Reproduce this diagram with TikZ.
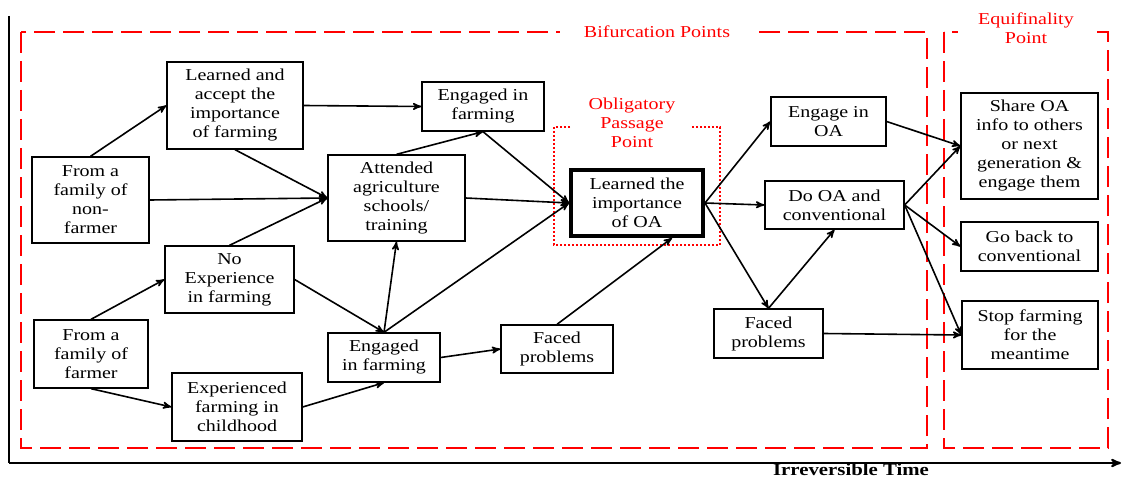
\documentclass[tikz,border=0pt]{standalone}
\usepackage{fontspec}
\setmainfont{Liberation Serif}[FakeStretch=1.2]
\usetikzlibrary{arrows}

\begin{document}
\begin{tikzpicture}[x=0.75pt,y=-0.75pt,>=stealth',
    every node/.style={font=\fontsize{12.5}{14.25}\selectfont},
    stage/.style={draw,line width=1pt,align=center,inner sep=1pt},
    keystage/.style={stage,line width=3pt},
    flow/.style={->,line width=1.2pt},
    zone/.style={red,line width=1.5pt,dash pattern=on 15.75pt off 6pt},
    opp/.style={red,line width=1.1pt,dash pattern=on 1.5pt off 1.5pt},
    zonelabel/.style={fill=white,text=red,align=center,inner sep=0pt}]
    \useasboundingbox (0,0) rectangle (1122,478);
    \coordinate (ytop) at (9,16);
    \coordinate (origin) at (9,463);
    \coordinate (xend) at (1121,463);
    \draw[line width=1.5pt] (ytop) -- (origin);
    \draw[->,line width=1.5pt] (origin) -- (xend);
    \draw[zone] (21,32) rectangle (927,448);
    \draw[zone] (944,32) rectangle (1108,448);
    \draw[opp] (554,127) rectangle (720,245);
    \node[zonelabel,minimum width=146pt,minimum height=14pt] (bifurlabel) at (657,32) {Bifurcation Points};
    \node[zonelabel,minimum width=102pt] (equilabel) at (1026,28) {Equifinality\\Point};
    \node[zonelabel,minimum width=90pt] (opplabel) at (632,123) {Obligatory\\Passage\\Point};
    \node[font=\fontsize{13}{16}\selectfont\bfseries,anchor=base,inner sep=0pt] (timelabel) at (851,475.5) {Irreversible Time};

    \node[stage,minimum width=87.75pt,minimum height=64.5pt] (nonfarm) at (90.5,200) {From a\\family of\\non-\\farmer};
    \node[stage,minimum width=85.5pt,minimum height=51pt] (farmer) at (91,354) {From a\\family of\\farmer};
    \node[stage,minimum width=102pt,minimum height=65.25pt] (learnfarm) at (235,105.5) {Learned and\\accept the\\importance\\of farming};
    \node[stage,minimum width=96.75pt,minimum height=50.25pt] (noexp) at (229.5,279.5) {No\\Experience\\in farming};
    \node[stage,minimum width=97.5pt,minimum height=51pt] (expchild) at (237,407) {Experienced\\farming in\\childhood};
    \node[stage,minimum width=102.75pt,minimum height=64.5pt] (attend) at (396.5,198) {Attended\\agriculture\\schools/\\training};
    \node[stage,minimum width=91.5pt,minimum height=36.75pt] (engtop) at (483,106.5) {Engaged in\\farming};
    \node[stage,minimum width=84pt,minimum height=36.75pt] (engbot) at (384,357.5) {Engaged\\in farming};
    \node[stage,minimum width=84pt,minimum height=36pt] (facedmid) at (557,349) {Faced\\problems};
    \node[keystage,minimum width=99pt,minimum height=49.5pt] (oa) at (637,203) {Learned the\\importance\\of OA};
    \node[stage,minimum width=86.25pt,minimum height=36.75pt] (engoa) at (828.5,121.5) {Engage in\\OA};
    \node[stage,minimum width=104.25pt,minimum height=36pt] (dooa) at (834.5,205) {Do OA and\\conventional};
    \node[stage,minimum width=81.75pt,minimum height=36.75pt] (facedr) at (768.5,333.5) {Faced\\problems};
    \node[stage,minimum width=102.75pt,minimum height=79.5pt] (share) at (1029.5,146) {Share OA\\info to others\\or next\\generation \&\\engage them};
    \node[stage,minimum width=102.75pt,minimum height=36.75pt] (goback) at (1029.5,246.5) {Go back to\\conventional};
    \node[stage,minimum width=102pt,minimum height=51pt] (stopfarm) at (1030,335) {Stop farming\\for the\\meantime};

    \draw[flow] (nonfarm.north) -- (learnfarm.west);
    \draw[flow] (nonfarm.east) -- (attend.west);
    \draw[flow] (learnfarm.south) -- (attend.west);
    \draw[flow] (noexp.north) -- (attend.west);
    \draw[flow] (learnfarm.east) -- (engtop.west);
    \draw[flow] (farmer.north) -- (noexp.west);
    \draw[flow] (farmer.south) -- (expchild.west);
    \draw[flow] (noexp.east) -- (engbot.north);
    \draw[flow] (expchild.east) -- (engbot.south);
    \draw[flow] (engbot.north) -- (attend.south);
    \draw[flow] (attend.north) -- (engtop.south);
    \draw[flow] (engtop.south) -- (oa.west);
    \draw[flow] (attend.east) -- (oa.west);
    \draw[flow] (engbot.north) -- (oa.west);
    \draw[flow] (engbot.east) -- (facedmid.west);
    \draw[flow] (facedmid.north) -- (oa.-45);
    \draw[flow] (oa.east) -- (engoa.west);
    \draw[flow] (oa.east) -- (dooa.west);
    \draw[flow] (oa.east) -- (facedr.north);
    \draw[flow] (facedr.north) -- (dooa.south);
    \draw[flow] (engoa.east) -- (share.west);
    \draw[flow] (dooa.east) -- (share.west);
    \draw[flow] (dooa.east) -- (goback.west);
    \draw[flow] (dooa.east) -- (stopfarm.west);
    \draw[flow] (facedr.east) -- (stopfarm.west);
\end{tikzpicture}
\end{document}
